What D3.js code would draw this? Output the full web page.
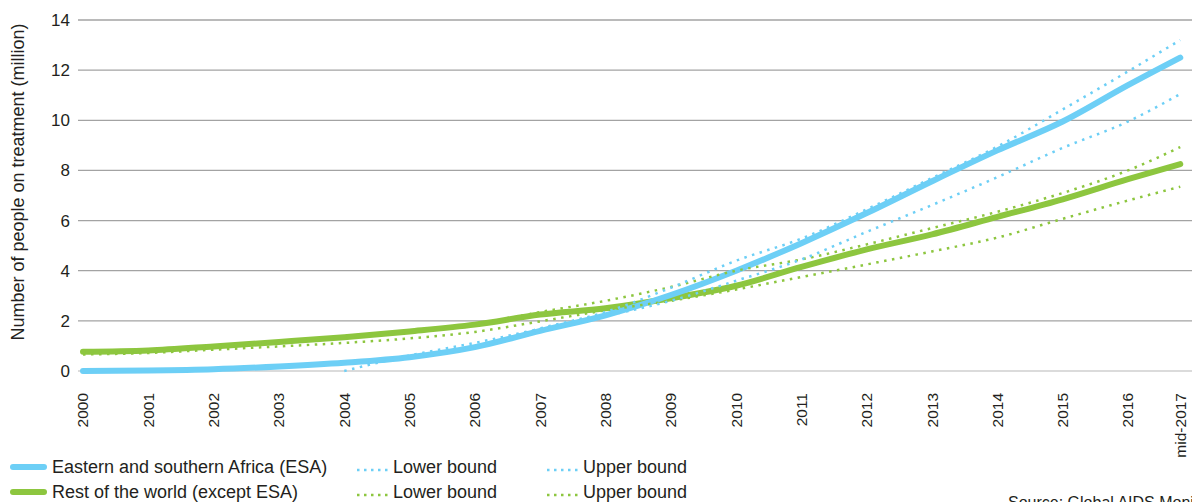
<!DOCTYPE html>
<html>
<head>
<meta charset="utf-8">
<script src="https://cdn.jsdelivr.net/npm/d3@7"></script>
<style>
	body { margin: 0; background: #fff; }
	svg { display: block; font-family: "Liberation Sans", Arial, sans-serif; }
</style>
</head>
<body>
<script>
// category labels and where they sit on the time axis
// (mid-2017 sits a bit closer to 2016 than a full year in the source)
var years = ["2000", "2001", "2002", "2003", "2004", "2005", "2006", "2007", "2008",
	"2009", "2010", "2011", "2012", "2013", "2014", "2015", "2016", "mid-2017"];
var yearPos = [2000, 2001, 2002, 2003, 2004, 2005, 2006, 2007, 2008,
	2009, 2010, 2011, 2012, 2013, 2014, 2015, 2016, 2016.8];

// people on treatment, millions
var esa = [0.0, 0.02, 0.07, 0.18, 0.33, 0.55, 0.95, 1.6, 2.22, 3.03, 4.0, 5.1, 6.3, 7.57, 8.8, 9.95, 11.4, 12.5];
var esaLow = [null, null, null, null, 0.0, 0.62, 1.12, 1.68, 2.2, 2.8, 3.6, 4.45, 5.55, 6.62, 7.73, 8.9, 9.95, 11.05];
var esaHigh = [null, null, null, null, 0.33, 0.55, 0.97, 1.7, 2.35, 3.32, 4.4, 5.28, 6.45, 7.7, 8.95, 10.43, 11.95, 13.2];

var row = [0.77, 0.82, 0.98, 1.16, 1.35, 1.58, 1.85, 2.25, 2.5, 2.9, 3.4, 4.15, 4.85, 5.45, 6.15, 6.85, 7.65, 8.25];
var rowLow = [0.66, 0.72, 0.85, 0.98, 1.12, 1.3, 1.56, 1.98, 2.42, 2.8, 3.25, 3.75, 4.25, 4.77, 5.32, 6.07, 6.8, 7.35];
var rowHigh = [0.77, 0.82, 0.98, 1.16, 1.35, 1.58, 1.85, 2.35, 2.8, 3.35, 4.0, 4.45, 5.05, 5.7, 6.35, 7.1, 8.0, 8.93];

var yTicks = [0, 2, 4, 6, 8, 10, 12, 14];

var blue = "#6dcff6";
var green = "#8dc63f";

document.addEventListener("DOMContentLoaded", function () {
	var width = 1192;
	var height = 502;

	var svg = d3.select("body").append("svg")
		.attr("width", width)
		.attr("height", height);

	// scales
	var x = d3.scaleLinear().domain([2000, 2016]).range([83, 1128]);
	var y = d3.scaleLinear().domain([0, 14]).range([371, 20]);

	// gridlines
	svg.append("g").selectAll("line")
		.data(yTicks)
		.join("line")
		.attr("x1", 78)
		.attr("x2", width)
		.attr("y1", function (d) { return y(d); })
		.attr("y2", function (d) { return y(d); })
		.attr("stroke", function (d) { return d === 0 ? "#cfcfcf" : "#a3a3a3"; })
		.attr("stroke-width", 1.3);

	// y axis labels (axis drawn without domain/ticks)
	var yAxis = svg.append("g")
		.attr("transform", "translate(70,0)")
		.call(d3.axisLeft(y).tickValues(yTicks).tickSize(0).tickPadding(0));
	yAxis.select(".domain").remove();
	yAxis.selectAll("text")
		.attr("font-family", "Liberation Sans, Arial, sans-serif")
		.attr("font-size", 17)
		.attr("fill", "#231f20");

	// y axis title
	svg.append("text")
		.attr("transform", "translate(24,182) rotate(-90)")
		.attr("text-anchor", "middle")
		.attr("font-size", 18)
		.attr("fill", "#231f20")
		.text("Number of people on treatment (million)");

	// x labels, rotated
	svg.append("g").selectAll("text")
		.data(years)
		.join("text")
		.attr("transform", function (d, i) { return "translate(" + x(yearPos[i]) + ",393) rotate(-90)"; })
		.attr("text-anchor", "end")
		.attr("dy", "0.35em")
		.attr("font-size", 15.5)
		.attr("fill", "#231f20")
		.text(function (d) { return d; });

	// line builder, skips missing values
	function lineFor(values) {
		return d3.line()
			.defined(function (d) { return d !== null; })
			.x(function (d, i) { return x(yearPos[i]); })
			.y(function (d) { return y(d); })
			.curve(d3.curveMonotoneX)(values);
	}

	// main series
	[[row, green], [esa, blue]].forEach(function (s) {
		svg.append("path")
			.attr("d", lineFor(s[0]))
			.attr("fill", "none")
			.attr("stroke", s[1])
			.attr("stroke-width", 6)
			.attr("stroke-linecap", "round")
			.attr("stroke-linejoin", "round");
	});

	// bounds, dotted
	[[rowLow, green], [rowHigh, green], [esaLow, blue], [esaHigh, blue]].forEach(function (s) {
		svg.append("path")
			.attr("d", lineFor(s[0]))
			.attr("fill", "none")
			.attr("stroke", s[1])
			.attr("stroke-width", 2.5)
			.attr("stroke-dasharray", "2.5,5.5");
	});

	// legend
	var legendRows = [
		{ color: blue, label: "Eastern and southern Africa (ESA)", y: 467 },
		{ color: green, label: "Rest of the world (except ESA)", y: 492 }
	];
	legendRows.forEach(function (r) {
		svg.append("line")
			.attr("x1", 13).attr("x2", 44)
			.attr("y1", r.y).attr("y2", r.y)
			.attr("stroke", r.color)
			.attr("stroke-width", 6)
			.attr("stroke-linecap", "round");
		svg.append("text")
			.attr("x", 52).attr("y", r.y + 6)
			.attr("font-size", 18)
			.attr("fill", "#231f20")
			.text(r.label);

		[[357, "Lower bound"], [547, "Upper bound"]].forEach(function (b) {
			svg.append("line")
				.attr("x1", b[0]).attr("x2", b[0] + 33)
				.attr("y1", r.y + 3).attr("y2", r.y + 3)
				.attr("stroke", r.color)
				.attr("stroke-width", 2.5)
				.attr("stroke-dasharray", "2.5,4.5");
			svg.append("text")
				.attr("x", b[0] + 36).attr("y", r.y + 6)
				.attr("font-size", 18)
				.attr("fill", "#231f20")
				.text(b[1]);
		});
	});

	// source note, cut by the frame like in the original
	svg.append("text")
		.attr("x", 1008).attr("y", 508)
		.attr("font-size", 16)
		.attr("fill", "#231f20")
		.text("Source: Global AIDS Monitoring 2018");
});
</script>
</body>
</html>
